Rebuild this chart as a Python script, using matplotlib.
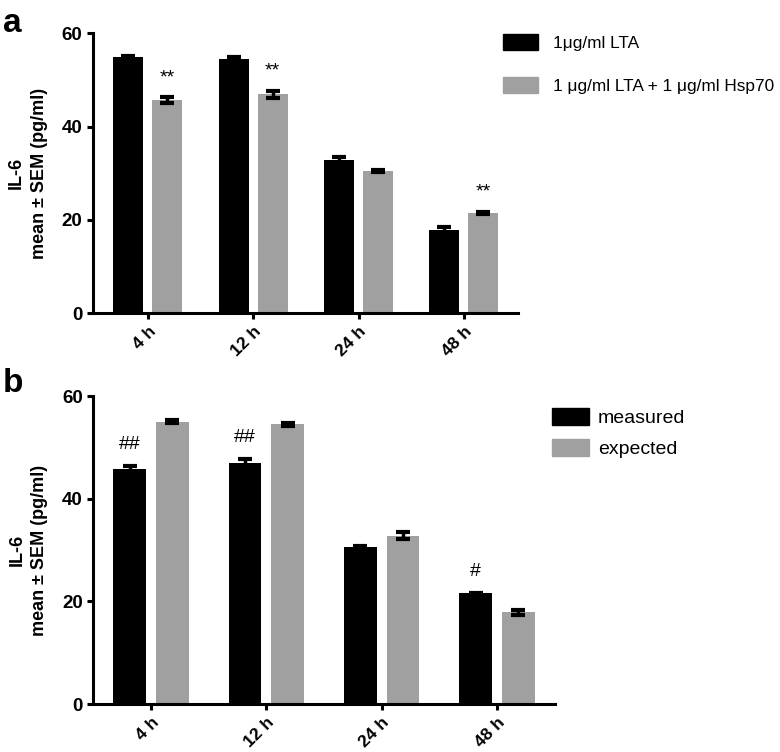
import matplotlib
matplotlib.use("Agg")
import matplotlib.pyplot as plt
import numpy as np
from matplotlib.patches import Patch

plt.rcParams['font.family'] = ['Liberation Sans', 'DejaVu Sans']

times = ['4 h', '12 h', '24 h', '48 h']

# panel a
lta_mean = [55.0, 54.5, 32.8, 17.9]
lta_sem = [0.1, 0.4, 0.6, 0.6]
lta_hsp_mean = [45.7, 46.9, 30.5, 21.5]
lta_hsp_sem = [0.6, 0.8, 0.3, 0.3]
marks_a = ['**', '**', '', '**']

# panel b
measured_mean = [45.7, 46.9, 30.5, 21.6]
measured_sem = [0.6, 0.8, 0.2, 0.1]
expected_mean = [55.0, 54.5, 32.8, 17.9]
expected_sem = [0.3, 0.3, 0.7, 0.5]
marks_b = ['##', '##', '', '#']

BLACK = '#000000'
GRAY = '#a0a0a0'


def style_axes(ax, xlim):
    for s in ['top', 'right']:
        ax.spines[s].set_visible(False)
    for s in ['left', 'bottom']:
        ax.spines[s].set_linewidth(2.2)
    ax.set_ylim(0, 60)
    ax.set_xlim(*xlim)
    ax.set_yticks([0, 20, 40, 60])
    ax.set_xticks(np.arange(len(times)))
    ax.set_xticklabels(times, rotation=45, ha='right', rotation_mode='anchor',
                       fontsize=12.5, fontweight='bold')
    for lab in ax.get_yticklabels():
        lab.set_fontsize(13.5)
        lab.set_fontweight('bold')
    ax.tick_params(axis='both', length=4.5, width=2.2, direction='out', pad=3)
    ax.set_ylabel('IL-6\nmean ± SEM (pg/ml)', fontsize=13, fontweight='bold',
                  linespacing=1.45, labelpad=10)


def draw_panel(ax, m1, e1, m2, e2, marks, mark_on_first):
    x = np.arange(len(times))
    off, w = 0.185, 0.285
    ax.bar(x - off, m1, w, color=BLACK, zorder=2)
    ax.bar(x + off, m2, w, color=GRAY, zorder=2)
    for xs, m, e in [(x - off, m1, e1), (x + off, m2, e2)]:
        ax.errorbar(xs, m, yerr=e, fmt='none', ecolor='black', elinewidth=2.5,
                    capsize=4.7, capthick=3.0, zorder=3)
    for i, t in enumerate(marks):
        if not t:
            continue
        if mark_on_first:
            xx, top = x[i] - off, m1[i] + e1[i]
        else:
            xx, top = x[i] + off, m2[i] + e2[i]
        ax.text(xx, top + 4.2, t, ha='center', va='center', fontsize=14)


fig = plt.figure(figsize=(7.8, 7.52), dpi=100)

ax_a = fig.add_axes([0.1192, 0.5834, 0.5449, 0.3724])
draw_panel(ax_a, lta_mean, lta_sem, lta_hsp_mean, lta_hsp_sem, marks_a, False)
style_axes(ax_a, (-0.522, 3.514))
ax_a.legend(handles=[Patch(color=BLACK, label='1μg/ml LTA'),
                     Patch(color=GRAY, label='1 μg/ml LTA + 1 μg/ml Hsp70')],
            loc='upper left', bbox_to_anchor=(0.645, 0.9548),
            bbox_transform=fig.transFigure, frameon=False, fontsize=12.4,
            handlelength=2.05, handleheight=1.08, labelspacing=1.5,
            handletextpad=0.85, borderpad=0, borderaxespad=0)

ax_b = fig.add_axes([0.1196, 0.0638, 0.592, 0.4096])
draw_panel(ax_b, measured_mean, measured_sem, expected_mean, expected_sem, marks_b, True)
style_axes(ax_b, (-0.50, 3.504))
ax_b.legend(handles=[Patch(color=BLACK, label='measured'),
                     Patch(color=GRAY, label='expected')],
            loc='upper left', bbox_to_anchor=(0.7077, 0.4574),
            bbox_transform=fig.transFigure, frameon=False, fontsize=14,
            handlelength=1.9, handleheight=1.0, labelspacing=0.6,
            handletextpad=0.45, borderpad=0, borderaxespad=0)

fig.text(0.004, 0.99, 'a', fontsize=24, fontweight='bold', va='top')
fig.text(0.004, 0.51, 'b', fontsize=24, fontweight='bold', va='top')

fig.savefig('out.png', dpi=100)
